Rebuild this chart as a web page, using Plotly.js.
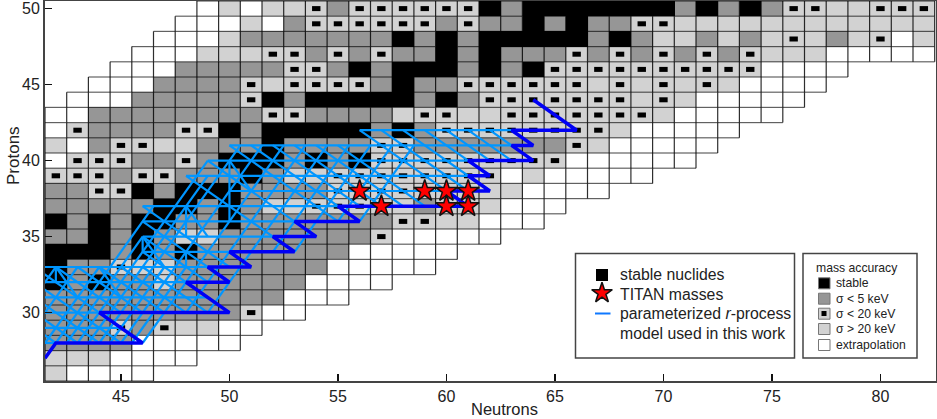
<!DOCTYPE html>
<html>
<head>
<meta charset="utf-8">
<script src="https://cdn.plot.ly/plotly-3.0.1.min.js"></script>
<style>html,body{margin:0;padding:0;background:#fff}</style>
</head>
<body>
<div id="chart" style="width:937px;height:419px"></div>
<script>
// chart rows, top to bottom. k stable, d <5 keV, m <20 keV, l >20 keV, w extrapolation
const rowProtons = [50,49,48,47,46,45,44,43,42,41,40,39,38,37,36,35,34,33,32,31,30,29,28,27,26];
const rowFirstNeutron = [49,48,47,46,45,44,43,42,42,42,42,42,42,42,42,42,42,42,42,42,42,42,42,42,42];
const rowCells = [
  "wlwllmdmmmmmmkdkkkkkkkdkdkdmmllmmm",
  "wwwlwdmmmmmmdmddkdkddmmllllllllllll",
  "wwwldddddddkdkdkkkkkdkdlldldlmldlmwl",
  "wwwlllmmdmdmddkdkdddmdmdmdmdmlllwwwww",
  "wwwdddddmmdkdkkkdkdkmmmmmmmmmmwwww",
  "wwwddddmlmmmmdkddmmmmmmlmlmlmlwwww",
  "wwwdddddmkdkkkkkdkdmmmmmmmlmlwwwww",
  "wwddddddddmmddddlmmllmmmmmmmlwwwww",
  "wmddddmmkdkkkkkdkdmmmmmmmmlwwwww",
  "lwdmmlldddkddddmmdddddddmlwwwww",
  "wmmmddmdkkkdkdkmmmmmmmmmwwwwww",
  "mmmdmmdddkdllmmmmmmmmwlwwwww",
  "ddmmkdkkkddddmlmmlllllwwww",
  "dddddkkdkdllmmmlldlllwww",
  "kdkdkkddkdddddddmmllwww",
  "ddkdkdlldddddddmwwwww",
  "kkkdkdkdddddddwwwww",
  "kddmlldddddddwwwww",
  "kdkddlddddddwwww",
  "dddddddddddwww",
  "dddddddddmww",
  "dddmdmllww",
  "ddddwwwww",
  "lllwwww",
  "lwwww",
];

// r-process path, light blue network
const runProtons = [42,41,40,39,38,37,36,35,34,33,32,31,30,29,28];
const runFrom = [56,50,49,48,50,46,46,46,46,41,41,41,41,41,41];
const runTo = [63,63,61,61,60,55,53,52,50,49,48,49,44,45,42];
// [neutrons, protons, neutrons, protons]
const backSlashes = [
  [56,42,61,37],[57,42,61,38],[58,42,62,38],[59,42,62,39],[60,42,62,40],[61,42,63,40],[62,42,63,41],
  [50,41,55,36],[51,41,55,37],[52,41,56,37],[53,41,57,37],[54,41,58,37],[55,41,59,37],
  [49,40,54,35],[48,39,53,34],[46,37,50,33],[46,36,50,32],[46,35,49,32],[46,34,49,31],
  [42,33,45,30],[43,33,46,30],[44,33,47,30],[45,33,48,30],[46,33,49,30],[41,33,44,30],[41,32,45,28],[41,31,44,28],[41,30,43,28],[41,29,42,28],
];
const forwardSlashes = [
  [46,28,52.5,41],[45,28,51.5,41],[44,28,50.5,41],[43,28,49,40],[42,28,46.5,37],
  [48,30,53.5,41],[49,30,54.5,41],[52,34,55.5,41],[53,34,56.5,41],[55,36,57.5,41],[56,36,58.5,41],
  [41,31,42,33],[41,29,43,33],[41.5,28,44,33],[42.5,28,46,35],[43.5,28,49,39],[44.5,28,47,33],[45.5,28,48,33],
];
const steepLines = [
  [50,40,50,36],[48,37,48,35],[46,35,46,34],[48,34,48,33],[42,33,42,32],
  [42,33,43,31],[44,33,45,31],[46,35,47,33],[48,37,49,35],[50,40,51,38],
];
// r-process path, dark blue edge
const pathNeutrons = [64,66,63,64,63,64,61,62,61,62,60,61,55,56,53,54,52,53,50,51,49,50,48,50,44,46,42,41.5];
const pathProtons = [44,42,42,41,41,40,40,39,39,38,38,37,37,36,36,35,35,34,34,33,33,32,32,30,30,28,28,27];

const titanNeutrons = [56,59,60,61,57,60,61];
const titanProtons = [38,38,38,38,37,37,37];

const xTicks = [45,50,55,60,65,70,75,80];
const yTicks = [30,35,40,45,50];

const codeValue = { k: 0, d: 1, m: 2, l: 2, w: 3 };
const xRange = [41.5, 82.56];
const yRange = [25.5, 50.5];

// pixel helpers for the legend boxes
const pxX = (px) => (px - 45) / 891;
const pxY = (py) => 1 - (py - 1) / 380;
const dataX = (px) => xRange[0] + pxX(px) * (xRange[1] - xRange[0]);
const dataY = (py) => yRange[0] + pxY(py) * (yRange[1] - yRange[0]);

// build heatmap matrix, cell edges and the dots
const xCells = [];
for (let n = 42; n <= 82; n++) xCells.push(n);
const yCells = rowProtons.slice().reverse();
const zCells = yCells.map(() => xCells.map(() => null));
const vertX = [], vertY = [], horX = [], horY = [];
const dotX = [], dotY = [];
const seenEdges = new Set();
const addVert = (n, z) => {
  const key = "v" + n + "_" + z;
  if (seenEdges.has(key)) return;
  seenEdges.add(key);
  vertX.push(n, n, null);
  vertY.push(z - 0.5, z + 0.5, null);
};
const addHor = (n, z) => {
  const key = "h" + n + "_" + z;
  if (seenEdges.has(key)) return;
  seenEdges.add(key);
  horX.push(n - 0.5, n + 0.5, null);
  horY.push(z, z, null);
};
rowCells.forEach((row, r) => {
  const z = rowProtons[r];
  [...row].forEach((code, i) => {
    const n = rowFirstNeutron[r] + i;
    zCells[yCells.indexOf(z)][xCells.indexOf(n)] = codeValue[code];
    addVert(n - 0.5, z);
    addVert(n + 0.5, z);
    addHor(n, z - 0.5);
    addHor(n, z + 0.5);
    if (code === "m") {
      dotX.push(n);
      dotY.push(z);
    }
  });
});

const segmentX = [], segmentY = [];
runProtons.forEach((z, i) => {
  segmentX.push(runFrom[i], runTo[i], null);
  segmentY.push(z, z, null);
});
[...backSlashes, ...forwardSlashes, ...steepLines].forEach((s) => {
  segmentX.push(s[0], s[2], null);
  segmentY.push(s[1], s[3], null);
});

const cells = {
  type: "heatmap",
  x: xCells,
  y: yCells,
  z: zCells,
  zmin: 0,
  zmax: 3,
  showscale: false,
  hoverongaps: false,
  colorscale: [
    [0, "#000000"], [0.2, "#000000"],
    [0.2, "#969696"], [0.5, "#969696"],
    [0.5, "#d2d2d2"], [0.8, "#d2d2d2"],
    [0.8, "#ffffff"], [1, "#ffffff"],
  ],
};
const horEdges = { type: "scatter", mode: "lines", x: horX, y: horY, line: { color: "rgba(0,0,0,0.62)", width: 1.2 }, hoverinfo: "skip" };
const vertEdges = { type: "scatter", mode: "lines", x: vertX, y: vertY, line: { color: "rgba(0,0,0,0.82)", width: 1.2 }, hoverinfo: "skip" };
const dots = {
  type: "scatter",
  mode: "markers",
  x: dotX,
  y: dotY,
  marker: { symbol: "line-ew", size: 6, line: { width: 5, color: "#000000" } },
  hoverinfo: "skip",
};
const network = { type: "scatter", mode: "lines", x: segmentX, y: segmentY, line: { color: "#0096ff", width: 2.2 }, hoverinfo: "skip" };
const pathEdge = { type: "scatter", mode: "lines", x: pathNeutrons, y: pathProtons, line: { color: "#0000f5", width: 3.5 }, hoverinfo: "skip" };
const titan = {
  type: "scatter",
  mode: "markers",
  x: titanNeutrons,
  y: titanProtons,
  marker: { symbol: "star", size: 16.5, color: "#ff0000", line: { color: "#111111", width: 1.5 } },
  hoverinfo: "skip",
};

// legend keys
const keyStable = { type: "scatter", mode: "markers", x: [dataX(602)], y: [dataY(275)], marker: { symbol: "square", size: 12, color: "#000000" }, hoverinfo: "skip" };
const keyTitan = { type: "scatter", mode: "markers", x: [dataX(602)], y: [dataY(293)], marker: { symbol: "star", size: 15.5, color: "#ff0000", line: { color: "#111111", width: 1.5 } }, hoverinfo: "skip" };
const keyPath = { type: "scatter", mode: "lines", x: [dataX(595), dataX(610.5)], y: [dataY(313.5), dataY(313.5)], line: { color: "#0f78ff", width: 2 }, hoverinfo: "skip" };
const keyDot = { type: "scatter", mode: "markers", x: [dataX(824)], y: [dataY(313.5)], marker: { symbol: "square", size: 5, color: "#000000" }, hoverinfo: "skip" };

const boxShape = (x0, x1) => ({
  type: "rect", xref: "paper", yref: "paper", layer: "below",
  x0: pxX(x0), x1: pxX(x1), y0: pxY(358), y1: pxY(253.5),
  fillcolor: "#ffffff", line: { color: "#444444", width: 1.5 },
});
const swatchColors = ["#000000", "#969696", "#d2d2d2", "#d2d2d2", "#ffffff"];
const swatchRows = [283.3, 298.7, 313.7, 329, 345];
const swatchShapes = swatchRows.map((py, i) => ({
  type: "rect", xref: "paper", yref: "paper", layer: "below",
  x0: pxX(818.5), x1: pxX(830), y0: pxY(py + 5.5), y1: pxY(py - 5.5),
  fillcolor: swatchColors[i], line: { color: "#777777", width: 1 },
}));

const label = (text, px, py, size) => ({
  text, xref: "paper", yref: "paper", x: pxX(px - 2), y: pxY(py),
  xanchor: "left", yanchor: "middle", showarrow: false, align: "left",
  font: { size, color: "#222222" },
});
const annotations = [
  label("stable nuclides", 620, 274.5, 15.8),
  label("TITAN masses", 620, 294, 15.8),
  label("parameterized <i>r</i>-process", 620, 313.5, 15.8),
  label("model used in this work", 620, 333.5, 15.8),
  label("mass accuracy", 815.5, 268, 12.2),
  label("stable", 835.5, 283.3, 12.2),
  label("σ < 5 keV", 835.5, 298.7, 12.2),
  label("σ < 20 keV", 835.5, 313.7, 12.2),
  label("σ > 20 keV", 835.5, 329, 12.2),
  label("extrapolation", 835.5, 345, 12.2),
  {
    text: "Neutrons", xref: "paper", yref: "paper", x: pxX(504), y: pxY(408.5),
    xanchor: "center", yanchor: "middle", showarrow: false, font: { size: 16.5, color: "#222222" },
  },
  {
    text: "Protons", xref: "paper", yref: "paper", x: pxX(13), y: pxY(156), textangle: -90,
    xanchor: "center", yanchor: "middle", showarrow: false, font: { size: 17, color: "#222222" },
  },
];

const axisStyle = {
  showgrid: false,
  zeroline: false,
  showline: true,
  mirror: true,
  linecolor: "#444444",
  linewidth: 2,
  ticks: "inside",
  ticklen: 7,
  tickwidth: 1.5,
  tickcolor: "#111111",
  tickfont: { size: 16, color: "#222222" },
};

const layout = {
  width: 937,
  height: 419,
  margin: { l: 45, r: 1, t: 1, b: 38 },
  paper_bgcolor: "#ffffff",
  plot_bgcolor: "#ffffff",
  showlegend: false,
  font: { family: "Liberation Sans, Arial, sans-serif" },
  xaxis: { ...axisStyle, range: xRange, tickmode: "array", tickvals: xTicks, ticktext: xTicks.map(String) },
  yaxis: { ...axisStyle, range: yRange, tickmode: "array", tickvals: yTicks, ticktext: yTicks.map(String) },
  shapes: [boxShape(575.5, 794.5), boxShape(803, 917), ...swatchShapes],
  annotations,
};

Plotly.newPlot(
  "chart",
  [cells, horEdges, vertEdges, dots, network, pathEdge, titan, keyStable, keyTitan, keyPath, keyDot],
  layout,
  { displayModeBar: false, staticPlot: true }
);
</script>
</body>
</html>
